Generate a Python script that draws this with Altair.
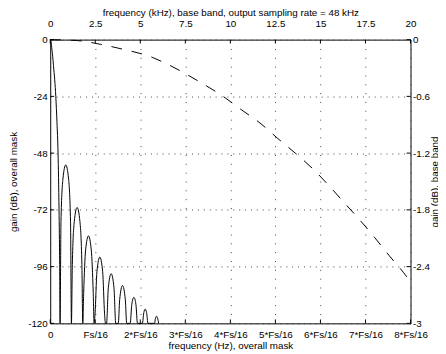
import altair as alt
import pandas as pd

# ---- overall mask (solid): x in units of Fs/16, gain in dB ----
mask_x = [0, 0.02, 0.037, 0.055, 0.072, 0.1, 0.124, 0.15, 0.174, 0.196, 0.21, 0.219,
          0.239, 0.282, 0.345, 0.408, 0.451, 0.471,
          0.491, 0.534, 0.597, 0.660, 0.703, 0.723,
          0.743, 0.786, 0.849, 0.912, 0.955, 0.975,
          0.995, 1.038, 1.101, 1.164, 1.207, 1.227,
          1.251, 1.290, 1.353, 1.416, 1.455,
          1.512, 1.542, 1.605, 1.668, 1.698,
          1.776, 1.811, 1.857, 1.903, 1.938,
          2.046, 2.078, 2.109, 2.140, 2.172,
          2.315, 2.338, 2.361, 2.384, 2.407]
mask_db = [0, -1.2, -4, -7, -11, -17, -24, -35, -48, -72, -95, -120,
           -77, -59, -53, -59, -77, -120,
           -95, -77, -71, -77, -95, -120,
           -107, -89, -83, -89, -107, -120,
           -116, -98, -92, -98, -116, -120,
           -120, -105, -99, -105, -120,
           -120, -110, -104, -110, -120,
           -120, -112, -109, -112, -120,
           -120, -115.5, -114, -115.5, -120,
           -120, -117.8, -117, -117.8, -120]

# ---- base band (dashed): kHz, gain in dB ----
band_khz = [0, 1.5, 2.8, 4.0, 5.7, 6.4, 8.5, 9.6, 10.6, 11.7, 12.6, 13.6, 14.6,
            15.5, 16.3, 17.2, 18.0, 18.8, 19.6, 20]
band_db = [0, -0.01, -0.05, -0.10, -0.19, -0.25, -0.47, -0.60, -0.74, -0.89, -1.04,
           -1.20, -1.37, -1.55, -1.72, -1.91, -2.09, -2.28, -2.46, -2.56]

# ---- ticks ----
bottom_ticks = [0, 1, 2, 3, 4, 5, 6, 7, 8]
bottom_labels = ["0", "Fs/16", "2*Fs/16", "3*Fs/16", "4*Fs/16", "5*Fs/16",
                 "6*Fs/16", "7*Fs/16", "8*Fs/16"]
top_ticks = [0, 2.5, 5, 7.5, 10, 12.5, 15, 17.5, 20]
left_ticks = [-120, -96, -72, -48, -24, 0]
right_ticks = [-3, -2.4, -1.8, -1.2, -0.6, 0]

W, H = 367, 289
TICK = 4
FONT = "Liberation Sans"

mask_df = pd.DataFrame({"x": mask_x, "y": mask_db})
band_df = pd.DataFrame({"x": band_khz, "y": band_db})

bottom_expr = "[" + ",".join("'%s'" % s for s in bottom_labels) + "][round(datum.value)]"

xb = alt.X("x:Q", scale=alt.Scale(domain=[0, 8], nice=False, zero=False),
           axis=alt.Axis(orient="bottom", values=bottom_ticks, labelExpr=bottom_expr,
                         title="frequency (Hz), overall mask", grid=True,
                         gridDash=[1, 8], labelPadding=6, titlePadding=2))
yl = alt.Y("y:Q", scale=alt.Scale(domain=[-120, 0], nice=False, zero=False),
           axis=alt.Axis(orient="left", values=left_ticks, labelExpr="'' + datum.value",
                         title="gain (dB), overall mask", grid=True, gridDash=[1, 5],
                         labelPadding=3, titlePadding=9))

solid = alt.Chart(mask_df).mark_line(color="black", strokeWidth=1,
                                     interpolate="monotone").encode(x=xb, y=yl)
bt = alt.Chart(pd.DataFrame({"x": bottom_ticks})).mark_rule(color="black").encode(
    x=xb, y=alt.value(H - TICK), y2=alt.value(H))
lt = alt.Chart(pd.DataFrame({"y": left_ticks})).mark_rule(color="black").encode(
    y=yl, x=alt.value(0), x2=alt.value(TICK))
layer_a = alt.layer(solid, bt, lt)

xt = alt.X("x:Q", scale=alt.Scale(domain=[0, 20], nice=False, zero=False),
           axis=alt.Axis(orient="top", values=top_ticks, labelExpr="'' + datum.value",
                         title="frequency (kHz), base band, output sampling rate = 48 kHz",
                         grid=False, labelPadding=11, titlePadding=2))
yr = alt.Y("y:Q", scale=alt.Scale(domain=[-3, 0], nice=False, zero=False),
           axis=alt.Axis(orient="right", values=right_ticks, labelExpr="'' + datum.value",
                         title="gain (dB), base band", grid=False, labelPadding=2,
                         titlePadding=0, titleAngle=270, titleBaseline="top"))

dashed = alt.Chart(band_df).mark_line(color="black", strokeWidth=1, strokeDash=[11, 10],
                                      interpolate="monotone").encode(x=xt, y=yr)
tt = alt.Chart(pd.DataFrame({"x": top_ticks})).mark_rule(color="black").encode(
    x=xt, y=alt.value(0), y2=alt.value(TICK))
rt = alt.Chart(pd.DataFrame({"y": right_ticks})).mark_rule(color="black").encode(
    y=yr, x=alt.value(W - TICK), x2=alt.value(W))
layer_b = alt.layer(dashed, tt, rt)

chart = alt.layer(layer_a, layer_b).resolve_scale(
    x="independent", y="independent"
).properties(
    width=W, height=H,
    autosize=alt.AutoSizeParams(type="none"),
    padding={"left": 43, "top": 29, "right": 28, "bottom": 28},
    background="white",
).configure_view(
    stroke="black", strokeWidth=1
).configure_axis(
    labelFont=FONT, labelFontSize=10, labelColor="black",
    titleFont=FONT, titleFontSize=10, titleFontWeight="normal", titleColor="black",
    domain=False, ticks=False, tickSize=0, labelFlush=False, labelOverlap=False,
    gridColor="#444", gridWidth=1, gridOpacity=1,
)

chart.save("out.html", embed_options={"renderer": "svg", "actions": False})
